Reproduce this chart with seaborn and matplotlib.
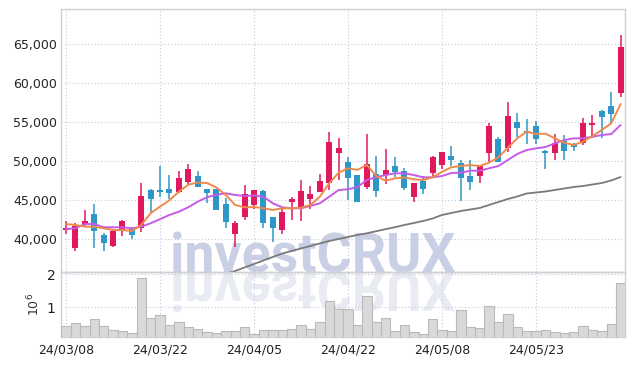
import numpy as np
import seaborn as sns
import matplotlib.pyplot as plt
from matplotlib.textpath import TextPath
from matplotlib.font_manager import FontProperties
from matplotlib.patches import PathPatch
from matplotlib.transforms import Affine2D

# ---- data ----
dates = ["24/03/08", "24/03/22", "24/04/05", "24/04/22", "24/05/08", "24/05/23"]
date_pos = [0, 10, 20, 30, 40, 50]

opens = [41200, 38850, 41960, 43240, 40550, 39180, 41100, 41280, 41410, 46320,
         46320, 46450, 46020, 47380, 48115, 46450, 46450, 44520, 40680, 42900,
         44400, 46230, 42820, 41190, 44820, 43970, 45200, 46100, 47260, 51100,
         49910, 48240, 46740, 48330, 48280, 49400, 48760, 45460, 47470, 48540,
         49560, 50680, 49740, 48100, 48150, 51030, 52820, 51670, 55080, 53880,
         54520, 51360, 51100, 52600, 52180, 52380, 54650, 56450, 57090, 58720]
highs = [42300, 42050, 43750, 44520, 40770, 41280, 42470, 41300, 47260, 46400,
         49440, 48240, 48800, 49620, 48800, 46500, 46500, 45260, 42380, 46960,
         46320, 46320, 42850, 43970, 45460, 47600, 46830, 48370, 53790, 52950,
         50590, 48300, 53460, 50720, 51540, 50510, 49100, 47180, 48115, 50680,
         51250, 51960, 50170, 50170, 49500, 54870, 53080, 57640, 56150, 55420,
         55200, 51400, 53460, 53370, 52310, 55510, 55940, 56580, 58880, 66190]
lows = [40700, 38540, 41540, 38870, 38540, 39050, 40420, 40000, 40970, 43330,
        45460, 45170, 45970, 46960, 46700, 44690, 43700, 41410, 39050, 42470,
        43850, 41410, 39700, 40700, 42420, 42380, 43920, 46000, 46320, 47600,
        45040, 44820, 46450, 45460, 47090, 47950, 46320, 44820, 45810, 47950,
        49050, 49400, 44900, 46320, 47180, 49820, 49950, 51230, 53080, 52220,
        52220, 48970, 50170, 50170, 51360, 52090, 52950, 52950, 54870, 58280]
closes = [41500, 41700, 42380, 41030, 39490, 41100, 42380, 40550, 45550, 45200,
          46060, 45970, 47820, 48970, 46740, 45970, 43760, 42180, 42050, 45810,
          46320, 42130, 41410, 43540, 45200, 46230, 45800, 47470, 52470, 51670,
          47900, 44820, 49650, 46230, 48880, 48630, 46540, 47180, 46490, 50510,
          51190, 50170, 47900, 47300, 49400, 54520, 49950, 55810, 54310, 53670,
          52820, 51030, 52380, 51360, 51870, 54870, 54870, 55720, 56060, 64610]

ma5 = [41960, 41833, 41615, 41615, 41410, 41192, 41190, 41060, 41833, 43333,
       44200, 45000, 46100, 47000, 47280, 47220, 46640, 45680, 44400, 44100,
       44150, 43974, 43756, 43974, 43974, 44051, 44397, 45461, 47179, 48538,
       49102, 48900, 49525, 48115, 47512, 47820, 47948, 47692, 47602, 47948,
       48650, 49230, 49397, 49525, 49397, 49820, 50512, 51743, 52948, 53794,
       53500, 53550, 52948, 52384, 52089, 52512, 53243, 54012, 54871, 57345]
ma20 = [41320, 41410, 41960, 41960, 41540, 41540, 41540, 41410, 41615, 42050,
        42580, 43115, 43538, 44102, 44820, 45384, 45718, 45897, 45679, 45550,
        45615, 45461, 44615, 44102, 43974, 43974, 44269, 44615, 45461, 46320,
        46410, 46700, 47602, 47948, 48243, 48461, 48461, 48243, 47948, 47948,
        48115, 48500, 48538, 48795, 48795, 49102, 49397, 50166, 50935, 51448,
        51666, 51830, 52307, 52730, 52948, 52948, 53153, 53371, 53500, 54653]
ma60 = [np.nan] * 16 + [
    35295, 35590, 35936, 36385, 36833, 37282, 37731, 38167, 38500, 38821,
    39141, 39462, 39782, 40038, 40295, 40551, 40769, 41038, 41295, 41551,
    41833, 42090, 42346, 42667, 43115, 43372, 43628, 43820, 44013, 44397,
    44782, 45166, 45487, 45872, 46000, 46128, 46320, 46513, 46705, 46833,
    47025, 47218, 47538, 47987]

volume = [0.44, 0.52, 0.44, 0.64, 0.44, 0.32, 0.29, 0.22, 1.87, 0.67,
          0.77, 0.47, 0.55, 0.40, 0.34, 0.25, 0.22, 0.29, 0.29, 0.40,
          0.19, 0.31, 0.31, 0.31, 0.34, 0.46, 0.34, 0.57, 1.19, 0.94,
          0.94, 0.47, 1.33, 0.57, 0.67, 0.29, 0.47, 0.26, 0.19, 0.64,
          0.31, 0.29, 0.92, 0.40, 0.37, 1.04, 0.56, 0.80, 0.40, 0.29,
          0.29, 0.31, 0.25, 0.22, 0.25, 0.44, 0.32, 0.29, 0.50, 1.72]

idx = np.arange(len(opens))
o = np.array(opens); c = np.array(closes)

sns.set_theme(style="white")
plt.rcParams['font.family'] = ['DejaVu Sans']

RED = "#e0195f"
BLUE = "#2f96c8"
GRID = "#c6c9dd"
SPINE = "#cfcfd4"

fig = plt.figure(figsize=(6.34, 3.66), dpi=100, facecolor="white")
ax = fig.add_axes([0.0967, 0.2568, 0.8896, 0.7178], facecolor="none")
axv = fig.add_axes([0.0967, 0.0779, 0.8896, 0.1789], facecolor="none", sharex=ax)

# candles
up = c >= o
cols = np.where(up, RED, BLUE)
ax.vlines(idx, lows, highs, colors=cols, lw=1.1, zorder=3)
body_lo = np.minimum(o, c)
body_h = np.maximum(np.abs(c - o), 110)
ax.bar(idx, body_h, bottom=body_lo, width=0.62, color=cols, zorder=4, linewidth=0)

# moving averages
sns.lineplot(x=idx, y=ma60, ax=ax, color="#7a7a7a", lw=1.3, zorder=5)
sns.lineplot(x=idx, y=ma20, ax=ax, color="#c65be8", lw=1.4, zorder=5)
sns.lineplot(x=idx, y=ma5, ax=ax, color="#ef8a4a", lw=1.4, zorder=6)

ax.set_xlim(-0.5, len(opens) - 0.5)
ax.set_ylim(35800, 69500)
ax.set_yticks(range(40000, 65001, 5000))
ax.set_yticklabels([f"{v:,}" for v in range(40000, 65001, 5000)])
ax.tick_params(axis="y", labelsize=9, colors="#222222", pad=3, length=0)
ax.tick_params(axis="x", labelbottom=False, length=0)
ax.set_xlabel(""); ax.set_ylabel("")

# volume
vol_abs = np.array(volume) * 1e6
axv.bar(idx, vol_abs, width=1.0, color="#d9d9d9", edgecolor="#b9b9b9",
        linewidth=0.8, zorder=3)
axv.set_ylim(0.09e6, 2.06e6)
axv.set_yticks([1e6, 2e6])
axv.set_yticklabels(["1", "2"])
axv.set_ylabel(r"$10^6$", fontsize=9, color="#333333", labelpad=3)
axv.tick_params(axis="y", labelsize=10, colors="#222222", pad=4, length=0)
axv.set_xticks(date_pos)
axv.set_xticklabels(dates)
axv.tick_params(axis="x", labelsize=9, colors="#222222", pad=4, length=0)

for a in (ax, axv):
    a.grid(False)
    for v in date_pos:
        a.axvline(v, color=GRID, lw=0.8, ls=(0, (1, 2)), zorder=1)
    for s in a.spines.values():
        s.set_color(SPINE)
        s.set_linewidth(1.0)
for v in range(40000, 65001, 5000):
    ax.axhline(v, color=GRID, lw=0.8, ls=(0, (1, 2)), zorder=1)
for v in (1e6, 2e6):
    axv.axhline(v, color=GRID, lw=0.8, ls=(0, (1, 2)), zorder=1)

# watermark and its reflection
fp = FontProperties(family="Roboto", weight="bold")
tp = TextPath((0, 0), "investCRUX", size=55, prop=fp)
ext = tp.get_extents()
cap = TextPath((0, 0), "X", size=55, prop=fp).get_extents().height
sx = 282 / ext.width
sy = 39 / cap
tr = Affine2D().translate(-ext.x0, 0).scale(sx, sy).translate(173, 94)
trr = Affine2D().translate(-ext.x0, 0).scale(sx, -sy).translate(173, 94)
fig.add_artist(PathPatch(tp, transform=tr, color="#c9cfe5", lw=0, zorder=-1))
fig.add_artist(PathPatch(tp, transform=trr, color="#e9ebf3", lw=0, zorder=-1))

plt.savefig("out.png", dpi=100, facecolor="white")
